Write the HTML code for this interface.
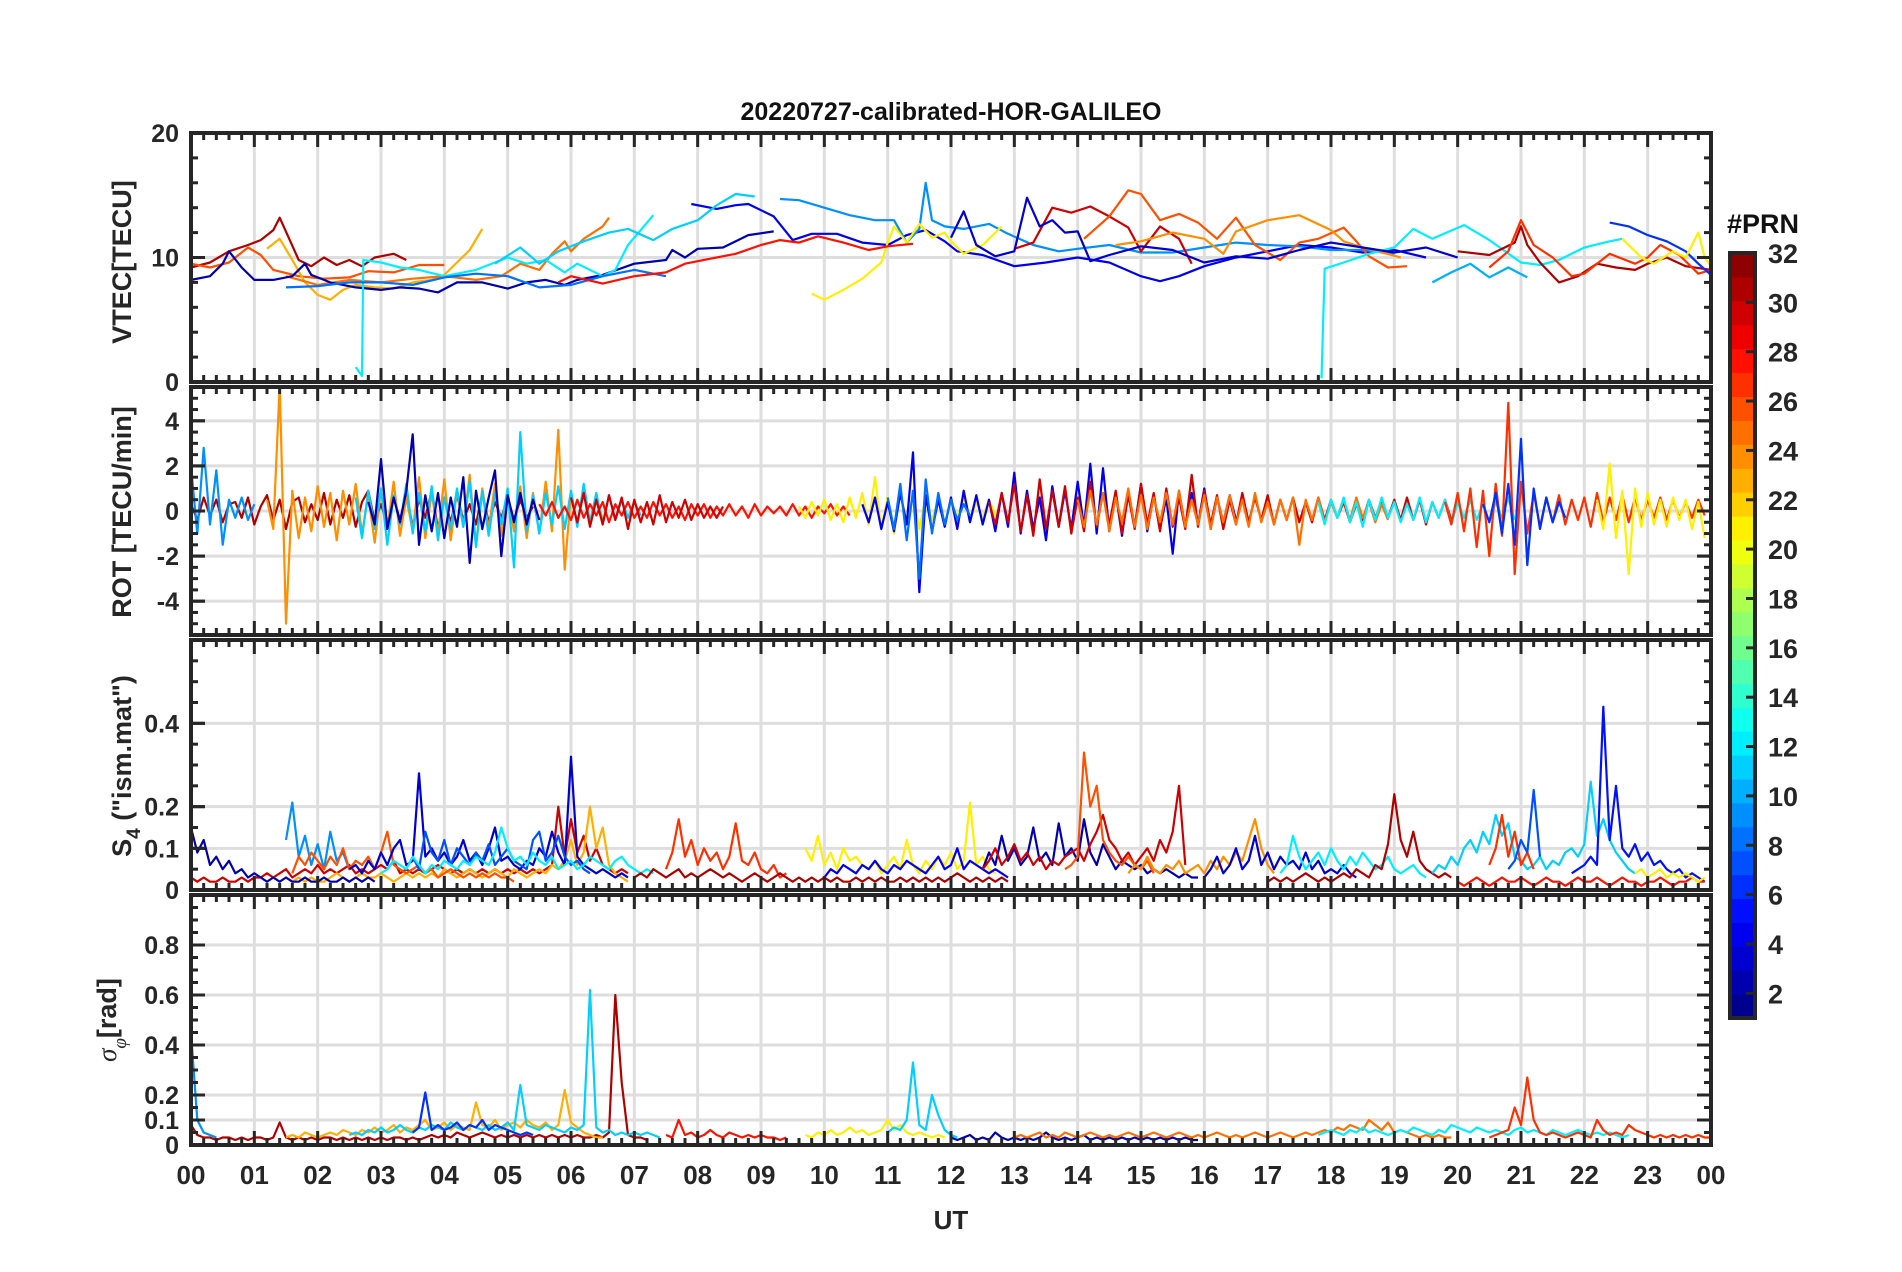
<!DOCTYPE html>
<html><head><meta charset="utf-8"><style>
html,body{margin:0;padding:0;background:#fff;}
svg{display:block;font-family:"Liberation Sans",Arial,sans-serif;font-weight:bold;}
</style></head><body>
<svg id="fig" width="1902" height="1272" viewBox="0 0 1902 1272" xmlns="http://www.w3.org/2000/svg">
<rect width="1902" height="1272" fill="#fff"/>
<text x="951" y="120" font-size="25" text-anchor="middle" fill="#111">20220727-calibrated-HOR-GALILEO</text>
<g id="panels"></g>
<text x="951" y="1229" font-size="26" text-anchor="middle" fill="#262626">UT</text>
<text transform="translate(131,262) rotate(-90)" font-size="27" text-anchor="middle" fill="#262626">VTEC[TECU]</text>
<text transform="translate(131,512) rotate(-90)" font-size="27" text-anchor="middle" fill="#262626">ROT [TECU/min]</text>
<text transform="translate(131,766) rotate(-90)" font-size="27" text-anchor="middle" fill="#262626">S<tspan font-size="19" dy="9">4</tspan><tspan dy="-9"> ("ism.mat")</tspan></text>
<text transform="translate(116,1020) rotate(-90)" font-size="27" text-anchor="middle" fill="#262626"><tspan font-family="Liberation Serif,serif" font-style="italic" font-weight="normal">σ</tspan><tspan font-size="19" dy="10" font-family="Liberation Serif,serif" font-style="italic" font-weight="normal">φ</tspan><tspan dy="-10">[rad]</tspan></text>
<g id="cbar"></g>
<text x="1763" y="233" font-size="27" text-anchor="middle" fill="#111">#PRN</text>
</svg>
<script>
// ---------- DATA ----------
const hourLabels=["00","01","02","03","04","05","06","07","08","09","10","11","12","13","14","15","16","17","18","19","20","21","22","23","00"];
const cbarTicks=[2,4,6,8,10,12,14,16,18,20,22,24,26,28,30,32];
const vtecTicks=[0,10,20];
const rotTicks=[-4,-2,0,2,4];
const s4Ticks=[0,0.1,0.2,0.4];
const sigTicks=[0,0.1,0.2,0.4,0.6,0.8];

// VTEC series: PRN + [hour,value] pairs
const vtecPrn=[31,26,23,25,2,4,12,11,9,8,21,28,30,26,24,12,31,27,6,21,3,10];
const vtecPts=[
[[0,9.2],[0.3,9.6],[0.6,10.5],[0.9,11],[1.1,11.4],[1.3,12.2],[1.4,13.2],[1.55,11.5],[1.7,9.8],[1.9,9.3],[2.1,10],[2.3,9.4],[2.5,9.8],[2.7,9.3],[2.9,10],[3.2,10.3],[3.4,9.8]],
[[0,9.5],[0.3,9.2],[0.6,9.6],[0.9,10.8],[1.1,10.2],[1.3,9.0],[1.7,8.5],[2.1,8.3],[2.5,8.4],[2.8,8.9],[3.2,8.8],[3.6,9.4],[4,9.4]],
[[1.2,10.7],[1.4,11.5],[1.6,9.8],[1.8,8.0],[2.0,7.0],[2.2,6.6],[2.4,7.4],[2.6,7.8],[2.9,7.6],[3.2,7.5],[3.5,8],[3.8,8.2],[4,8.6],[4.2,9.6],[4.4,10.6],[4.6,12.3]],
[[1.5,8.5],[2,7.8],[2.5,8.2],[3,8.0],[3.5,8.3],[4,8.5],[4.5,8.2],[4.9,8.5],[5.2,9.5],[5.5,9.0],[5.7,10.3],[5.9,11.3],[6,10.5],[6.2,11.5],[6.5,12.5],[6.6,13.2]],
[[0,8.2],[0.3,8.5],[0.5,9.5],[0.6,10.5],[0.8,9.2],[1,8.2],[1.3,8.2],[1.6,8.5],[1.8,9.5],[1.9,8.6],[2.2,8.0],[2.6,7.6],[3,7.4],[3.3,7.6],[3.6,7.5],[3.9,7.2],[4.2,8.0],[4.6,8.0],[5,7.5],[5.3,8.0],[5.6,8.2],[5.9,7.8],[6.1,8.2],[6.5,8.6],[7.0,9.5],[7.5,9.8],[7.6,10.6],[7.8,10.0],[8,10.7],[8.4,10.8],[8.8,11.8],[9.2,12.1]],
[[7.9,14.3],[8.3,13.9],[8.6,14.2],[8.8,14.3],[9.2,13.3],[9.5,11.4],[9.8,11.9],[10.2,11.9],[10.6,11.2],[11,11.0],[11.3,11.8],[11.6,12.2],[11.9,11.3],[12.1,10.5],[12.5,10.2],[13,9.3],[13.5,9.6],[14,10],[14.5,9.6],[15,8.5],[15.3,8.1],[15.6,8.5],[16,9.3],[16.5,10.0],[17,10.5],[17.5,11.0],[18,10.8],[18.5,10.4],[19,10.6],[19.5,10.0]],
[[2.6,1.2],[2.7,0.5],[2.72,9.8],[3,9.6],[3.3,9.2],[3.6,9.0],[4,8.5],[4.5,9.0],[5,10],[5.3,9.5],[5.6,9.8],[5.9,8.8],[6.1,9.5],[6.5,8.5],[6.7,9],[6.9,11],[7.1,12.2],[7.3,13.4]],
[[4.8,9.5],[5.2,10.8],[5.5,9.5],[5.8,10.5],[6.2,11.3],[6.6,12.0],[6.9,12.3],[7.3,11.4],[7.6,12.3],[8,13],[8.3,14.2],[8.6,15.1],[8.9,14.9]],
[[9.3,14.7],[9.6,14.6],[10,14.0],[10.4,13.4],[10.8,13.0],[11.1,13.0],[11.3,11.2],[11.5,12.3],[11.6,16.0],[11.7,13],[11.9,12.5],[12.2,12.3],[12.6,12.7],[12.9,11.9],[13.3,11.0],[13.7,10.5],[14,10.7],[14.5,11.0],[15,10.4],[15.5,10.4],[16,10.8],[16.5,11.2],[17,11.0],[17.5,10.9],[18,10.6],[18.5,10.6],[19,10.3]],
[[1.5,7.6],[2,7.7],[2.5,8.0],[3,8.0],[3.5,7.8],[4,8.4],[4.5,8.7],[5,8.5],[5.5,7.6],[6,7.8],[6.5,8.5],[7,9.0],[7.5,8.5]],
[[9.8,7.1],[10,6.6],[10.3,7.4],[10.6,8.3],[10.9,9.6],[11,11.2],[11.1,12.5],[11.3,11.2],[11.5,12.7],[11.7,11.6],[11.9,12],[12,11.3],[12.2,10.3],[12.5,11.0],[12.8,12.5]],
[[5.8,8.0],[6,8.5],[6.5,7.9],[7,8.5],[7.5,8.8],[7.8,9.5],[8.2,9.9],[8.6,10.3],[9,11.0],[9.3,11.4],[9.6,11.2],[9.9,11.7],[10.3,11.2],[10.7,10.6],[11.0,10.9],[11.4,11.1]],
[[13.0,10.7],[13.3,11.2],[13.6,14.0],[13.9,13.6],[14.2,14.1],[14.5,13.3],[14.8,12.4],[15,10.5],[15.3,12.5],[15.6,11.5],[15.8,9.5]],
[[14.1,11.5],[14.5,13.3],[14.8,15.4],[15,15.1],[15.3,13.0],[15.6,13.5],[15.9,12.8],[16.2,11.5],[16.5,13.2],[16.8,11.0],[17.2,9.8],[17.5,11.2],[17.8,11.5],[18.2,12.4],[18.4,11.3],[18.6,10.1],[18.9,9.2],[19.2,9.3]],
[[14.6,11.0],[15.0,11.3],[15.5,12.0],[16,11.5],[16.3,10.3],[16.5,12.1],[17,13.0],[17.5,13.4],[18,12.2],[18.2,11.3],[18.5,10.8],[18.8,10.4],[19.1,10.0]],
[[17.85,0.3],[17.9,9.1],[18.2,9.6],[18.6,10.3],[19.0,10.8],[19.3,12.3],[19.6,11.5],[20.1,12.6],[20.5,11.4],[21,9.6],[21.3,9.4],[21.6,9.8],[22,10.8],[22.4,11.3],[22.6,11.5]],
[[20,10.5],[20.5,10.2],[20.9,11.2],[21,12.5],[21.1,11.0],[21.3,9.6],[21.6,8.0],[21.9,8.5],[22.2,9.5],[22.5,9.2],[22.8,9.0],[23,9.5],[23.3,10],[23.6,9.3],[24,9.0]],
[[20.5,9.2],[20.8,10.5],[21,13],[21.2,11],[21.5,10],[21.8,8.5],[22,8.7],[22.4,10.3],[22.8,9.5],[23,10.0],[23.2,11],[23.5,10.2],[23.8,8.7],[24,9.0]],
[[22.4,12.8],[22.7,12.5],[23,11.8],[23.3,11.3],[23.6,10.5],[23.8,9.5],[24,8.6]],
[[22.6,11.5],[22.9,10.0],[23.1,9.5],[23.4,10.5],[23.6,10.0],[23.8,12.0],[23.9,10],[24,9.3]],
[[12,11.6],[12.2,13.7],[12.4,11.0],[12.7,10.1],[13,10.5],[13.2,14.8],[13.4,12.5],[13.6,13.0],[13.8,12.0],[14,12.1],[14.2,9.7],[14.5,10.2],[15,10.9],[15.5,10.6],[16,9.6],[16.5,10.1],[17,9.9],[17.5,10.6],[18,11.2],[18.5,10.8],[19,10.4],[19.5,10.8],[20,10.0]],
[[19.6,8.0],[19.9,8.8],[20.2,9.5],[20.5,8.4],[20.8,9.2],[21.1,8.4]]
];

// ROT series (dt = 0.1 h)
const rotPrn=[31,24,11,2,9,28,30,21,4,8,30,25,12,27,6,21];
const rotStart=[0,1.2,2.6,2.8,0,5.5,6.0,9.6,10.6,11.0,12.6,14.0,17.8,19.8,20.4,22.2];
const rotVals=[
[0.3,-0.4,0.6,-0.2,0.5,-0.5,0.3,0.4,-0.3,0.6,-0.6,0.2,0.7,-0.4,0.5,-0.8,0.4,0.6,-0.5,0.3,-0.4,0.8,-0.6,0.5,-0.3,0.7,-0.7,0.4,0.9,-0.5,0.3,-0.6,0.6,-0.4,0.8,-0.7,0.5,-0.3,0.9,-0.8,0.6,-0.5,0.7,-0.4,0.3,-0.6,0.8,-0.5,0.4,-0.3,0.6,-0.4,0.5,-0.3,0.2],
[0.5,-0.8,5.6,-5.0,0.9,-1.2,0.6,-0.9,1.1,-0.7,0.8,-1.3,0.9,-0.6,1.2,-1.0,0.7,-1.4,1.0,-0.8,1.3,-1.1,0.6,-0.9,1.5,-1.2,0.8,-1.0,1.4,-1.3,0.9,-0.7,1.6,-1.5,1.0,-0.8,1.2,-1.1,0.7,-0.9,1.1,-1.2,0.8,-1.0,1.3,-0.9,3.6,-2.6,0.8,-0.6,0.9,-0.5,0.6,-0.4],
[0.6,-1.2,0.9,-0.8,1.0,-1.5,0.7,-0.6,1.2,-1.0,0.8,-0.9,1.1,-1.3,0.6,-0.8,1.0,-0.7,1.3,-1.6,0.9,-1.1,0.8,-0.6,1.0,-2.5,3.5,-0.9,0.7,-1.0,0.8,-0.6,1.1,-0.8,0.9,-0.7,1.2,-0.5,0.8,-0.6,0.7,-0.4,0.5,-0.3,0.4,-0.2],
[0.4,-0.6,2.3,-0.8,0.6,-0.5,0.9,3.4,-1.5,0.7,-0.9,0.8,-1.2,0.6,-0.7,1.5,-2.3,0.9,-0.8,0.6,1.8,-2.0,0.7,-0.5,0.8,-0.6,0.5,-0.4],
[2.0,-1.0,2.8,-0.6,1.8,-1.5,0.5,-0.3,0.6,-0.4,0.3],
[0.3,-0.2,0.4,-0.3,0.2,-0.4,0.5,-0.3,0.3,-0.2,0.4,-0.5,0.3,-0.2,0.4,-0.3,0.2,-0.3,0.4,-0.2,0.3,-0.3,0.2,-0.4,0.3,-0.2,0.3,-0.3,0.2,-0.2,0.3,-0.2,0.2,-0.3,0.3,-0.2,0.2,-0.1,0.2,-0.2,0.3,-0.2,0.2,-0.3,0.2,-0.1,0.3,-0.2,0.2,-0.2],
[0.6,-0.5,0.8,-0.7,0.5,-0.6,0.7,-0.4,0.6,-0.8,0.5,-0.5,0.4,-0.6,0.7,-0.5,0.4,-0.3,0.5,-0.4,0.3,-0.3,0.2,-0.3,0.2],
[0.2,-0.3,0.4,-0.2,0.5,-0.4,0.3,-0.5,0.6,-0.3,0.8,-0.6,1.5,-0.8,0.6,-1.0,0.9,-0.5,0.7,-0.8,0.6,-0.4,0.5,-0.6,0.4,-0.3,0.6,-0.5,0.4,-0.3,0.5,-0.2],
[0.3,-0.5,0.6,-0.8,0.4,-0.9,0.8,-0.6,2.6,-3.6,0.7,-0.9,0.5,-0.7,0.6,-0.8,0.9,-0.5,0.7,-0.6,0.5,-0.9,0.8,-0.7,1.7,-1.0,0.9,-0.8,0.6,-1.3,1.1,-0.7,0.9,-0.8,1.3,-0.7,2.1,-1.0,1.9,-0.9,0.8,-1.1,0.9,-0.7,1.2,-0.9,0.7,-0.8,0.6,-1.9,0.9,-0.7,0.8,-0.6,1.0,-0.8,0.6,-0.5,0.7,-0.4],
[0.6,-0.8,1.2,-1.3,0.9,-3.0,1.4,-1.0,0.8,-0.6,0.5,-0.4,0.3,-0.2],
[0.4,-0.6,0.8,-0.5,1.2,-0.9,0.7,-1.1,1.4,-0.8,0.9,-0.7,1.1,-1.0,0.6,-0.9,1.3,-0.7,0.8,-0.6,0.9,-1.0,0.7,-0.8,1.2,-0.6,0.8,-0.9,1.0,-0.7,0.6,-0.8,1.6,-0.7,0.9,-0.6,0.7,-0.8,0.5,-0.6,0.8,-0.5,0.6,-0.4,0.7,-0.6,0.5,-0.4,0.6,-0.5,0.4,-0.5,0.6,-0.4,0.5,-0.3,0.4,-0.5,0.3,-0.4,0.5,-0.3,0.4,-0.3,0.5,-0.4,0.6,-0.4,0.5,-0.6,0.4,-0.3,0.5,-0.4],
[0.5,-0.7,0.9,-0.6,0.8,-0.9,0.6,-0.5,1.0,-0.7,0.7,-0.8,0.6,-0.5,0.8,-0.6,0.9,-0.7,0.5,-0.6,0.7,-0.8,0.6,-0.5,0.7,-0.6,0.5,-0.7,0.8,-0.5,0.4,-0.6,0.5,-0.4,0.6,-1.5,0.5,-0.4,0.6,-0.5,0.4,-0.3,0.5,-0.4,0.6,-0.3,0.4,-0.5,0.3,-0.4],
[0.4,-0.6,0.5,-0.3,0.6,-0.5,0.4,-0.7,0.5,-0.4,0.6,-0.3,0.4,-0.5,0.3,-0.4,0.6,-0.5,0.4,-0.3,0.5,-0.6,0.4,-0.3,0.5,-0.4,0.3,-0.5,0.4,-0.3,0.6,-0.4],
[0.4,-0.6,0.8,-0.9,1.0,-1.6,0.9,-2.0,1.2,-1.1,4.8,-2.8,1.3,-1.0,0.8,-0.7,0.6,-0.5,0.7,-0.6,0.5,-0.4,0.6,-0.7,0.8,-0.5,0.6,-0.4,0.7,-0.5,0.6,-0.4,0.5,-0.3,0.6,-0.4,0.5,-0.3,0.4,-0.3,0.5,-0.2],
[0.3,-0.5,0.8,-1.0,1.2,-1.5,3.2,-2.4,1.0,-0.8,0.6,-0.5,0.4,-0.3],
[0.5,-0.8,2.1,-1.2,0.9,-2.8,1.0,-0.7,0.8,-0.6,0.5,-0.7,0.6,-0.4,0.5,-0.8,0.4,-1.2]
];

// S4 series (dt = 0.1 h)
const s4Prn=[30,23,2,9,26,3,7,12,27,31,21,4,2,30,26,24,3,12,31,11,27,7,5,28,21];
const s4Start=[0,1.5,0,1.5,1.6,2.5,3.5,3.0,7.5,7.0,9.7,10.0,12.5,12.5,13.8,14.8,16.0,17.2,17.0,19.6,20.5,20.8,21.8,20.0,22.8];
const s4Vals=[
[0.03,0.02,0.03,0.02,0.02,0.03,0.02,0.02,0.03,0.02,0.03,0.03,0.04,0.03,0.04,0.05,0.03,0.04,0.05,0.04,0.06,0.04,0.05,0.04,0.05,0.06,0.04,0.05,0.04,0.05,0.06,0.05,0.07,0.04,0.05,0.04,0.05,0.04,0.05,0.06,0.05,0.04,0.05,0.04,0.05,0.04,0.05,0.04,0.05,0.04,0.05,0.04,0.05,0.04,0.05,0.04,0.05,0.06,0.2,0.08,0.17,0.09,0.13,0.07,0.1,0.06,0.05,0.04,0.05,0.04],
[0.03,0.02,0.03,0.02,0.03,0.02,0.02,0.03,0.04,0.03,0.02,0.03,0.04,0.03,0.03,0.04,0.03,0.02,0.03,0.04,0.03,0.04,0.03,0.04,0.03,0.05,0.04,0.03,0.04,0.05,0.04,0.03,0.04,0.05,0.04,0.03,0.05,0.04,0.03,0.04,0.05,0.04,0.06,0.05,0.07,0.12,0.06,0.09,0.2,0.1,0.15,0.06,0.04,0.03,0.02],
[0.15,0.09,0.12,0.06,0.08,0.05,0.07,0.04,0.05,0.03,0.04,0.03,0.02,0.03,0.02,0.03,0.02,0.02,0.03,0.02,0.02,0.03,0.02,0.02,0.03,0.02,0.03,0.02,0.03,0.02],
[0.12,0.21,0.08,0.13,0.06,0.11,0.05,0.14,0.07,0.09,0.05],
[0.04,0.08,0.06,0.09,0.07,0.05,0.08,0.06,0.1,0.05,0.07,0.06,0.08,0.05,0.09,0.14,0.06,0.05,0.04,0.05,0.06,0.04,0.05,0.03,0.04,0.05,0.04,0.03,0.04,0.03,0.04,0.03,0.04,0.03,0.03,0.02],
[0.05,0.06,0.04,0.07,0.05,0.09,0.06,0.1,0.12,0.06,0.07,0.28,0.08,0.1,0.07,0.09,0.06,0.08,0.12,0.07,0.09,0.06,0.1,0.15,0.07,0.08,0.06,0.05,0.07,0.06,0.1,0.08,0.14,0.09,0.06,0.32,0.08,0.06,0.05,0.04,0.05,0.04,0.03,0.04,0.03],
[0.08,0.05,0.14,0.09,0.07,0.12,0.06,0.1,0.08,0.06,0.09,0.07,0.11,0.06,0.08,0.1,0.07,0.06,0.05,0.12,0.14,0.07,0.09,0.13,0.08,0.06,0.07,0.05,0.04],
[0.04,0.05,0.07,0.06,0.05,0.08,0.06,0.04,0.06,0.05,0.07,0.06,0.05,0.07,0.06,0.08,0.07,0.06,0.09,0.15,0.1,0.07,0.08,0.06,0.09,0.07,0.06,0.08,0.05,0.06,0.07,0.05,0.06,0.08,0.07,0.06,0.05,0.07,0.08,0.06,0.05,0.04,0.05,0.04],
[0.05,0.09,0.17,0.08,0.12,0.06,0.1,0.07,0.09,0.05,0.08,0.16,0.07,0.06,0.09,0.05,0.04,0.06,0.03,0.04],
[0.03,0.04,0.03,0.05,0.04,0.03,0.04,0.05,0.03,0.04,0.03,0.04,0.05,0.04,0.03,0.04,0.03,0.02,0.03,0.04,0.03,0.02,0.03,0.04,0.03,0.02,0.03,0.02,0.03,0.02,0.03,0.02,0.03,0.02,0.02,0.03,0.02,0.03,0.02,0.03,0.02,0.02,0.03,0.02,0.03,0.02,0.03,0.02,0.03,0.02,0.03,0.04,0.03,0.02,0.03,0.02,0.03,0.02,0.03,0.02],
[0.1,0.07,0.13,0.06,0.09,0.05,0.1,0.07,0.08,0.06,0.05,0.07,0.04,0.06,0.08,0.05,0.12,0.06,0.04,0.07,0.05,0.08,0.06,0.09,0.05,0.07,0.21,0.06,0.08,0.05,0.04],
[0.03,0.05,0.04,0.06,0.05,0.04,0.06,0.05,0.07,0.05,0.04,0.06,0.05,0.07,0.06,0.05,0.04,0.06,0.08,0.05,0.06,0.1,0.05,0.07,0.06,0.05,0.04,0.05,0.04,0.03],
[0.05,0.09,0.06,0.13,0.07,0.1,0.06,0.08,0.15,0.07,0.09,0.06,0.16,0.08,0.1,0.07,0.17,0.09,0.06,0.11,0.08,0.05,0.07,0.06,0.05,0.06,0.04,0.05,0.04,0.05,0.04,0.03,0.04,0.03,0.03],
[0.05,0.07,0.1,0.06,0.08,0.11,0.07,0.09,0.06,0.08,0.05,0.07,0.06,0.08,0.09,0.1,0.07,0.11,0.14,0.18,0.12,0.1,0.07,0.09,0.06,0.08,0.1,0.07,0.12,0.09,0.14,0.25,0.06],
[0.05,0.06,0.08,0.33,0.2,0.25,0.12,0.09,0.07,0.06,0.08,0.06,0.05,0.07,0.04],
[0.04,0.06,0.05,0.08,0.05,0.04,0.06,0.05,0.07,0.04,0.05,0.06,0.04,0.07,0.05,0.08,0.06,0.09,0.07,0.12,0.17,0.1,0.06,0.04],
[0.03,0.05,0.08,0.04,0.06,0.1,0.05,0.07,0.13,0.06,0.09,0.05,0.08,0.06,0.07,0.05,0.09,0.05,0.07,0.04,0.05,0.04,0.06,0.04,0.03],
[0.04,0.06,0.13,0.08,0.05,0.07,0.09,0.06,0.1,0.07,0.05,0.08,0.06,0.09,0.07,0.05,0.06,0.08,0.05,0.04,0.05,0.06,0.04,0.03],
[0.02,0.03,0.02,0.03,0.02,0.03,0.04,0.03,0.02,0.03,0.02,0.03,0.04,0.03,0.05,0.04,0.03,0.06,0.05,0.11,0.23,0.12,0.08,0.14,0.07,0.05,0.04,0.03,0.04,0.03],
[0.04,0.06,0.05,0.08,0.06,0.1,0.12,0.09,0.14,0.11,0.18,0.13,0.16,0.08,0.07,0.05,0.06,0.08,0.05,0.07,0.06,0.09,0.1,0.08,0.11,0.26,0.13,0.17,0.12,0.09,0.07,0.05,0.04],
[0.06,0.1,0.18,0.08,0.14,0.06,0.09,0.05],
[0.05,0.07,0.12,0.09,0.24,0.08],
[0.04,0.05,0.06,0.08,0.06,0.44,0.12,0.25,0.1,0.08,0.11,0.07,0.09,0.06,0.07,0.05,0.04,0.05,0.03,0.04,0.03,0.02],
[0.02,0.01,0.02,0.03,0.02,0.01,0.02,0.03,0.02,0.02,0.03,0.02,0.01,0.02,0.03,0.02,0.02,0.01,0.02,0.03,0.02,0.02,0.03,0.02,0.01,0.02,0.03,0.02,0.02,0.01,0.02,0.02,0.03,0.02,0.01,0.02,0.02,0.03,0.02,0.02],
[0.04,0.05,0.03,0.04,0.05,0.03,0.04,0.03,0.04,0.03,0.02,0.03]
];

// Sigma-phi series (dt = 0.1 h)
const sigPrn=[9,31,23,11,6,28,21,11,2,25,12,27];
const sigStart=[0,0,1.5,2.5,3.5,7.5,9.7,11.0,12.0,13.0,17.8,20.5];
const sigVals=[
[0.45,0.1,0.05,0.04,0.03],
[0.08,0.04,0.03,0.03,0.02,0.03,0.03,0.02,0.03,0.02,0.03,0.03,0.02,0.03,0.09,0.03,0.02,0.03,0.02,0.03,0.02,0.03,0.03,0.02,0.03,0.02,0.03,0.02,0.03,0.02,0.03,0.02,0.03,0.03,0.02,0.03,0.02,0.03,0.04,0.03,0.04,0.03,0.05,0.04,0.03,0.04,0.05,0.04,0.03,0.04,0.03,0.04,0.03,0.04,0.03,0.04,0.03,0.04,0.03,0.04,0.03,0.04,0.03,0.03,0.04,0.03,0.05,0.6,0.25,0.04,0.03,0.03,0.02],
[0.03,0.04,0.03,0.05,0.04,0.03,0.04,0.05,0.04,0.06,0.05,0.04,0.06,0.05,0.07,0.05,0.06,0.08,0.05,0.07,0.06,0.08,0.1,0.06,0.07,0.09,0.06,0.08,0.07,0.06,0.17,0.08,0.07,0.1,0.06,0.08,0.09,0.07,0.1,0.08,0.07,0.09,0.06,0.08,0.22,0.09,0.07,0.05,0.04,0.03,0.03],
[0.04,0.05,0.04,0.06,0.05,0.07,0.05,0.06,0.08,0.06,0.05,0.07,0.06,0.08,0.07,0.06,0.09,0.07,0.06,0.08,0.07,0.06,0.08,0.06,0.07,0.09,0.06,0.24,0.08,0.07,0.06,0.08,0.07,0.06,0.05,0.07,0.06,0.08,0.62,0.07,0.05,0.06,0.04,0.05,0.04,0.05,0.04,0.05,0.04,0.03],
[0.05,0.07,0.21,0.06,0.08,0.06,0.07,0.09,0.06,0.08,0.07,0.1,0.06,0.08,0.07,0.06,0.05,0.04,0.05,0.04],
[0.04,0.03,0.1,0.04,0.05,0.03,0.04,0.06,0.04,0.03,0.05,0.04,0.03,0.04,0.03,0.04,0.03,0.03,0.02,0.03],
[0.04,0.03,0.05,0.04,0.06,0.04,0.05,0.07,0.05,0.06,0.04,0.05,0.06,0.1,0.06,0.08,0.05,0.04,0.05,0.04,0.03,0.04,0.03],
[0.05,0.07,0.06,0.1,0.33,0.08,0.06,0.2,0.12,0.06,0.04,0.03],
[0.03,0.02,0.03,0.04,0.02,0.03,0.02,0.05,0.03,0.02,0.03,0.02,0.03,0.02,0.03,0.05,0.03,0.02,0.03,0.02,0.03,0.04,0.02,0.03,0.02,0.03,0.02,0.03,0.02,0.03,0.02,0.03,0.02,0.03,0.02,0.03,0.02,0.03,0.02,0.02],
[0.03,0.04,0.03,0.04,0.05,0.03,0.04,0.03,0.05,0.04,0.03,0.04,0.05,0.04,0.03,0.04,0.03,0.04,0.05,0.04,0.03,0.04,0.05,0.04,0.03,0.04,0.05,0.04,0.03,0.04,0.03,0.04,0.05,0.04,0.03,0.04,0.03,0.04,0.05,0.04,0.03,0.04,0.05,0.04,0.03,0.04,0.05,0.04,0.05,0.06,0.05,0.07,0.06,0.08,0.07,0.06,0.1,0.08,0.06,0.09,0.05,0.06,0.05,0.04,0.03,0.04,0.03,0.04,0.03,0.03],
[0.04,0.05,0.06,0.05,0.04,0.06,0.05,0.07,0.05,0.06,0.05,0.04,0.05,0.06,0.05,0.07,0.06,0.05,0.04,0.06,0.05,0.08,0.07,0.06,0.05,0.07,0.06,0.05,0.06,0.05,0.04,0.06,0.07,0.05,0.06,0.05,0.04,0.06,0.05,0.04,0.05,0.06,0.05,0.04,0.05,0.04,0.05,0.04,0.03,0.04],
[0.03,0.04,0.05,0.06,0.15,0.08,0.27,0.1,0.05,0.04,0.05,0.04,0.03,0.04,0.05,0.04,0.03,0.1,0.06,0.04,0.05,0.04,0.08,0.06,0.05,0.04,0.03,0.04,0.03,0.04,0.03,0.04,0.03,0.04,0.03,0.03]
];

// ---------- RENDER ----------
const NS="http://www.w3.org/2000/svg";
const X0=191,X1=1711;
function xs(h){return X0+(h/24)*(X1-X0);}
function jet(prn){
  const i=Math.max(0,Math.min(31,prn-1)); const x=(i+0.5)/32;
  const c=v=>Math.round(255*Math.max(0,Math.min(1,v)));
  return `rgb(${c(1.5-Math.abs(4*x-3))},${c(1.5-Math.abs(4*x-2))},${c(1.5-Math.abs(4*x-1))})`;
}
function mk(tag,attrs,parent){const e=document.createElementNS(NS,tag);for(const k in attrs)e.setAttribute(k,attrs[k]);parent.appendChild(e);return e;}
const root=document.getElementById('panels');

const panels=[
 {name:'vtec',top:133,bot:382,min:0,max:20,ticks:vtecTicks,grid:[10],minor:2,lab:v=>String(v)},
 {name:'rot',top:387,bot:635,min:-5.5,max:5.5,ticks:rotTicks,grid:rotTicks,minor:0.5,lab:v=>String(v)},
 {name:'s4',top:640,bot:890,min:0,max:0.6,ticks:s4Ticks,grid:[0.1,0.2,0.4],minor:0.05,lab:v=>String(v)},
 {name:'sigma',top:895,bot:1145,min:0,max:1,ticks:sigTicks,grid:[0.1,0.2,0.4,0.6,0.8],minor:0.05,lab:v=>String(v)}
];

panels.forEach((p,pi)=>{
  const g=mk('g',{},root);
  
  
  const ys=v=>p.bot-(v-p.min)/(p.max-p.min)*(p.bot-p.top);
  p.ys=ys;
  for(let h=1;h<24;h++){const l=mk('line',{x1:xs(h),x2:xs(h),y1:p.top,y2:p.bot,stroke:'#dedede','stroke-width':3},g);
    
    }
  p.grid.forEach(v=>{const l=mk('line',{x1:X0,x2:X1,y1:ys(v),y2:ys(v),stroke:'#dedede','stroke-width':3},g);
    
    });
  const cp=mk('clipPath',{id:'clip'+pi},g); mk('rect',{x:X0,y:p.top,width:X1-X0,height:p.bot-p.top},cp);
  p.series=mk('g',{'clip-path':`url(#clip${pi})`},g);
  p.g=g;
});

function drawSeries(p,prn,pts,label){
  const d=pts.map((q,i)=>(i?'L':'M')+xs(q[0]).toFixed(1)+' '+p.ys(q[1]).toFixed(1)).join('');
  const path=mk('path',{d:d,fill:'none',stroke:jet(prn),'stroke-width':2.2,'stroke-linejoin':'round'},p.series);
  
  
}
vtecPts.forEach((pts,i)=>drawSeries(panels[0],vtecPrn[i],pts,'vtec-prn'+vtecPrn[i]));
function sampled(start,vals){return vals.map((v,k)=>[start+k*0.1,v]);}
rotVals.forEach((v,i)=>drawSeries(panels[1],rotPrn[i],sampled(rotStart[i],v),'rot-prn'+rotPrn[i]));
s4Vals.forEach((v,i)=>drawSeries(panels[2],s4Prn[i],sampled(s4Start[i],v),'s4-prn'+s4Prn[i]));
sigVals.forEach((v,i)=>drawSeries(panels[3],sigPrn[i],sampled(sigStart[i],v),'sigma-prn'+sigPrn[i]));

panels.forEach((p,pi)=>{
  const g=p.g, ys=p.ys, C='#262626';
  for(let k=0;k<=120;k++){const h=k/5; const major=(k%5===0); const L=major?14:7;
    mk('line',{x1:xs(h),x2:xs(h),y1:p.top,y2:p.top+L,stroke:C,'stroke-width':3},g);
    mk('line',{x1:xs(h),x2:xs(h),y1:p.bot,y2:p.bot-L,stroke:C,'stroke-width':3},g);}
  const n=Math.round((p.max-p.min)/p.minor);
  for(let k=0;k<=n;k++){const v=p.min+k*p.minor; if(v<p.min-1e-9||v>p.max+1e-9)continue;
    const major=p.ticks.some(t=>Math.abs(t-v)<1e-6); const L=major?14:7;
    mk('line',{x1:X0,x2:X0+L,y1:ys(v),y2:ys(v),stroke:C,'stroke-width':3},g);
    mk('line',{x1:X1,x2:X1-L,y1:ys(v),y2:ys(v),stroke:C,'stroke-width':3},g);}
  p.ticks.forEach(v=>{
    mk('line',{x1:X0,x2:X0+14,y1:ys(v),y2:ys(v),stroke:C,'stroke-width':3},g);
    mk('line',{x1:X1,x2:X1-14,y1:ys(v),y2:ys(v),stroke:C,'stroke-width':3},g);
    const t=mk('text',{x:X0-12,y:ys(v)+9,'font-size':25,'text-anchor':'end',fill:C},g);
    t.textContent=p.lab(v);
    
    });
  const fr=mk('rect',{x:X0,y:p.top,width:X1-X0,height:p.bot-p.top,fill:'none',stroke:C,'stroke-width':4},g);
  
  
});
const svg=document.getElementById('fig');
hourLabels.forEach((s,i)=>{const t=mk('text',{x:xs(i),y:1184,'font-size':26,'text-anchor':'middle',fill:'#262626'},svg);
  t.textContent=s;
  
  });

// colorbar (limits 1..32)
const cb=document.getElementById('cbar');
const CT=253,CB=1018,CX=1730,CW=25;
const cy=v=>CB-(v-1)/31*(CB-CT);
const bandH=(CB-CT)/32;
for(let prn=1;prn<=32;prn++){
  const r=mk('rect',{x:CX,y:CB-prn*bandH,width:CW,height:bandH+0.6,fill:jet(prn)},cb);
  
  
}
mk('rect',{x:CX,y:CT,width:CW,height:CB-CT,fill:'none',stroke:'#262626','stroke-width':4},cb);
cbarTicks.forEach(v=>{
  mk('line',{x1:CX+CW-9,x2:CX+CW,y1:cy(v),y2:cy(v),stroke:'#262626','stroke-width':3},cb);
  const t=mk('text',{x:CX+CW+13,y:cy(v)+10,'font-size':27,fill:'#262626'},cb);
  t.textContent=String(v);
  
  
});
</script>
</body></html>
